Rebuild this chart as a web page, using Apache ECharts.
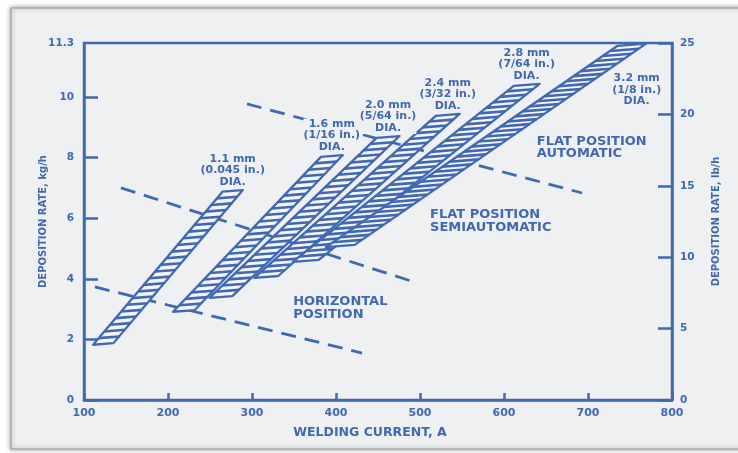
<!DOCTYPE html>
<html>
<head>
<meta charset="utf-8">
<script src="https://cdn.jsdelivr.net/npm/echarts@6/dist/echarts.min.js"></script>
<style>
  html, body { margin: 0; padding: 0; background: #ffffff; }
  #chart { width: 738px; height: 453px; }
</style>
</head>
<body>
<div id="chart"></div>
<script>
// Electrode diameters, each drawn as a hatched deposition-rate band
const diameters = ['1.1 mm', '1.6 mm', '2.0 mm', '2.4 mm', '2.8 mm', '3.2 mm'];
const diametersInch = ['(0.045 in.)', '(1/16 in.)', '(5/64 in.)', '(3/32 in.)', '(7/64 in.)', '(1/8 in.)'];

// Lower end of each band: welding current (A) and deposition rate (kg/h)
const bandStartCurrent = [123, 219, 263, 317, 364, 405];
const bandStartRate = [1.85, 2.94, 3.40, 4.06, 4.59, 5.08];
// Upper end of each band
const bandEndCurrent = [277, 395, 462, 533, 627, 752];
const bandEndRate = [6.90, 8.05, 8.68, 9.41, 10.40, 11.72];

// Dashed limits between welding positions, [current A, rate kg/h]
const horizontalLimit = [[113, 3.73], [431, 1.55]];
const semiautomaticLimit = [[144, 7.00], [489, 3.93]];
const automaticLimit = [[294, 9.77], [693, 6.83]];

// Region captions and where they sit
const regionNames = ['FLAT POSITION\nAUTOMATIC', 'FLAT POSITION\nSEMIAUTOMATIC', 'HORIZONTAL\nPOSITION'];
const regionCurrent = [639, 512, 349];
const regionRate = [8.73, 6.30, 3.43];

// Axis scales
const currentMin = 100, currentMax = 800, currentStep = 100;
const kgTicks = [0, 2, 4, 6, 8, 10];
const kgTop = 11.78;          // printed top edge of the kg/h scale
const kgTopLabel = '11.3';
const lbMin = 0, lbMax = 25, lbStep = 5;

const BLUE = '#4068b3';
const PANEL = '#eff0f2';
const SLOT = '#f4f5f7';
const FONT = 'DejaVu Sans';
const BAND_THICKNESS = 14.5; // px, measured across the band
const RUNG_TILT = 0.08;      // rungs and end caps rise slightly to the right
const RUNG_STEP = 8.8;       // px between rungs along the band

const chart = echarts.init(document.getElementById('chart'), null, { renderer: 'canvas' });

function renderBand(params, api) {
  const i = params.dataIndex;
  const p0 = api.coord([api.value(0), api.value(1)]);
  const p1 = api.coord([api.value(2), api.value(3)]);
  const dx = p1[0] - p0[0], dy = p1[1] - p0[1];
  const len = Math.hypot(dx, dy);
  const ux = dx / len, uy = dy / len;
  const sinA = -uy, cosA = ux;
  const w = BAND_THICKNESS / (sinA - RUNG_TILT * cosA);
  const hx = w / 2, hy = -RUNG_TILT * w / 2;
  const L0 = [p0[0] - hx, p0[1] - hy], L1 = [p1[0] - hx, p1[1] - hy];
  const R0 = [p0[0] + hx, p0[1] + hy], R1 = [p1[0] + hx, p1[1] + hy];
  const children = [{
    type: 'polygon',
    shape: { points: [L0, L1, R1, R0] },
    style: { fill: SLOT, stroke: BLUE, lineWidth: 2.3, lineJoin: 'round' }
  }];
  const n = Math.max(2, Math.round(len / RUNG_STEP));
  const step = len / n;
  for (let j = 1; j < n; j++) {
    const cx = p0[0] + ux * step * j, cy = p0[1] + uy * step * j;
    children.push({
      type: 'line',
      shape: { x1: cx - hx, y1: cy - hy, x2: cx + hx, y2: cy + hy },
      style: { stroke: BLUE, lineWidth: 2.6 }
    });
  }
  const last = i === diameters.length - 1;
  children.push({
    type: 'text',
    x: last ? p1[0] + 5 : p1[0],
    y: last ? p1[1] + 28 : p1[1] - 3,
    scaleX: 1.1,
    style: {
      text: diameters[i] + '\n' + diametersInch[i] + '\nDIA.',
      fill: BLUE,
      fontFamily: FONT,
      fontWeight: 'bold',
      fontSize: 10,
      lineHeight: 11.5,
      align: 'center',
      verticalAlign: last ? 'top' : 'bottom',
      backgroundColor: last ? 'transparent' : PANEL
    },
    z2: 10
  });
  return { type: 'group', children };
}

function renderRegion(params, api) {
  const p = api.coord([api.value(0), api.value(1)]);
  return {
    type: 'text',
    x: p[0],
    y: p[1],
    scaleX: 1.13,
    style: {
      text: regionNames[params.dataIndex],
      fill: BLUE,
      fontFamily: FONT,
      fontWeight: 'bold',
      fontSize: 11.5,
      lineHeight: 12.5,
      align: 'left',
      verticalAlign: 'top'
    }
  };
}

const dashed = (data) => ({
  type: 'line',
  data,
  symbol: 'none',
  silent: true,
  z: 2,
  lineStyle: { color: BLUE, width: 2.8, type: [15, 9], cap: 'butt' }
});

const axisText = { color: BLUE, fontFamily: FONT, fontWeight: 'bold' };

const option = {
  backgroundColor: '#ffffff',
  animation: false,
  graphic: [{
    type: 'rect',
    z: -100,
    silent: true,
    shape: { x: 11, y: 8, width: 740, height: 441 },
    style: {
      fill: PANEL,
      stroke: '#a8abb0',
      lineWidth: 1.5,
      shadowBlur: 5,
      shadowColor: 'rgba(0,0,0,0.35)'
    }
  }],
  grid: {
    left: 84, right: 66, top: 43, bottom: 53,
    show: true, borderColor: BLUE, borderWidth: 2.5, backgroundColor: 'transparent'
  },
  xAxis: {
    type: 'value',
    min: currentMin, max: currentMax, interval: currentStep,
    name: 'WELDING CURRENT, A',
    nameLocation: 'middle',
    nameGap: 26,
    nameMoveOverlap: false,
    nameTextStyle: Object.assign({ fontSize: 12.5, padding: [0, 16, 0, 0] }, axisText),
    axisLine: { show: true, lineStyle: { color: BLUE, width: 2.5 } },
    axisTick: { show: true, inside: true, length: 7, lineStyle: { color: BLUE, width: 2.5 } },
    axisLabel: Object.assign({ fontSize: 11, margin: 8 }, axisText),
    splitLine: { show: false }
  },
  yAxis: [{
    type: 'value',
    position: 'left',
    min: 0, max: kgTop,
    name: 'DEPOSITION RATE, kg/h',
    nameLocation: 'middle',
    nameRotate: 90,
    nameGap: 36,
    nameMoveOverlap: false,
    nameTextStyle: Object.assign({ fontSize: 10 }, axisText),
    axisLine: { show: true, lineStyle: { color: BLUE, width: 2.5 } },
    axisTick: { show: true, inside: true, length: 14, customValues: kgTicks, lineStyle: { color: BLUE, width: 2.5 } },
    axisLabel: Object.assign({
      fontSize: 10.5, margin: 10,
      customValues: kgTicks.concat([kgTop]),
      formatter: (v) => (Math.abs(v - kgTop) < 1e-6 ? kgTopLabel : String(v))
    }, axisText),
    splitLine: { show: false }
  }, {
    type: 'value',
    position: 'right',
    min: lbMin, max: lbMax, interval: lbStep,
    name: 'DEPOSITION RATE, lb/h',
    nameLocation: 'middle',
    nameRotate: 90,
    nameGap: 39,
    nameMoveOverlap: false,
    nameTextStyle: Object.assign({ fontSize: 10 }, axisText),
    axisLine: { show: true, lineStyle: { color: BLUE, width: 2.5 } },
    axisTick: { show: true, inside: true, length: 14, lineStyle: { color: BLUE, width: 2.5 } },
    axisLabel: Object.assign({ fontSize: 10.5, margin: 8 }, axisText),
    splitLine: { show: false }
  }],
  series: [
    dashed(horizontalLimit),
    dashed(semiautomaticLimit),
    dashed(automaticLimit),
    {
      type: 'custom',
      z: 3,
      silent: true,
      renderItem: renderBand,
      encode: { x: [0, 2], y: [1, 3] },
      data: diameters.map((_, i) => [bandStartCurrent[i], bandStartRate[i], bandEndCurrent[i], bandEndRate[i]])
    },
    {
      type: 'custom',
      z: 4,
      silent: true,
      renderItem: renderRegion,
      encode: { x: 0, y: 1 },
      data: regionNames.map((_, i) => [regionCurrent[i], regionRate[i]])
    }
  ]
};

chart.setOption(option);
</script>
</body>
</html>
